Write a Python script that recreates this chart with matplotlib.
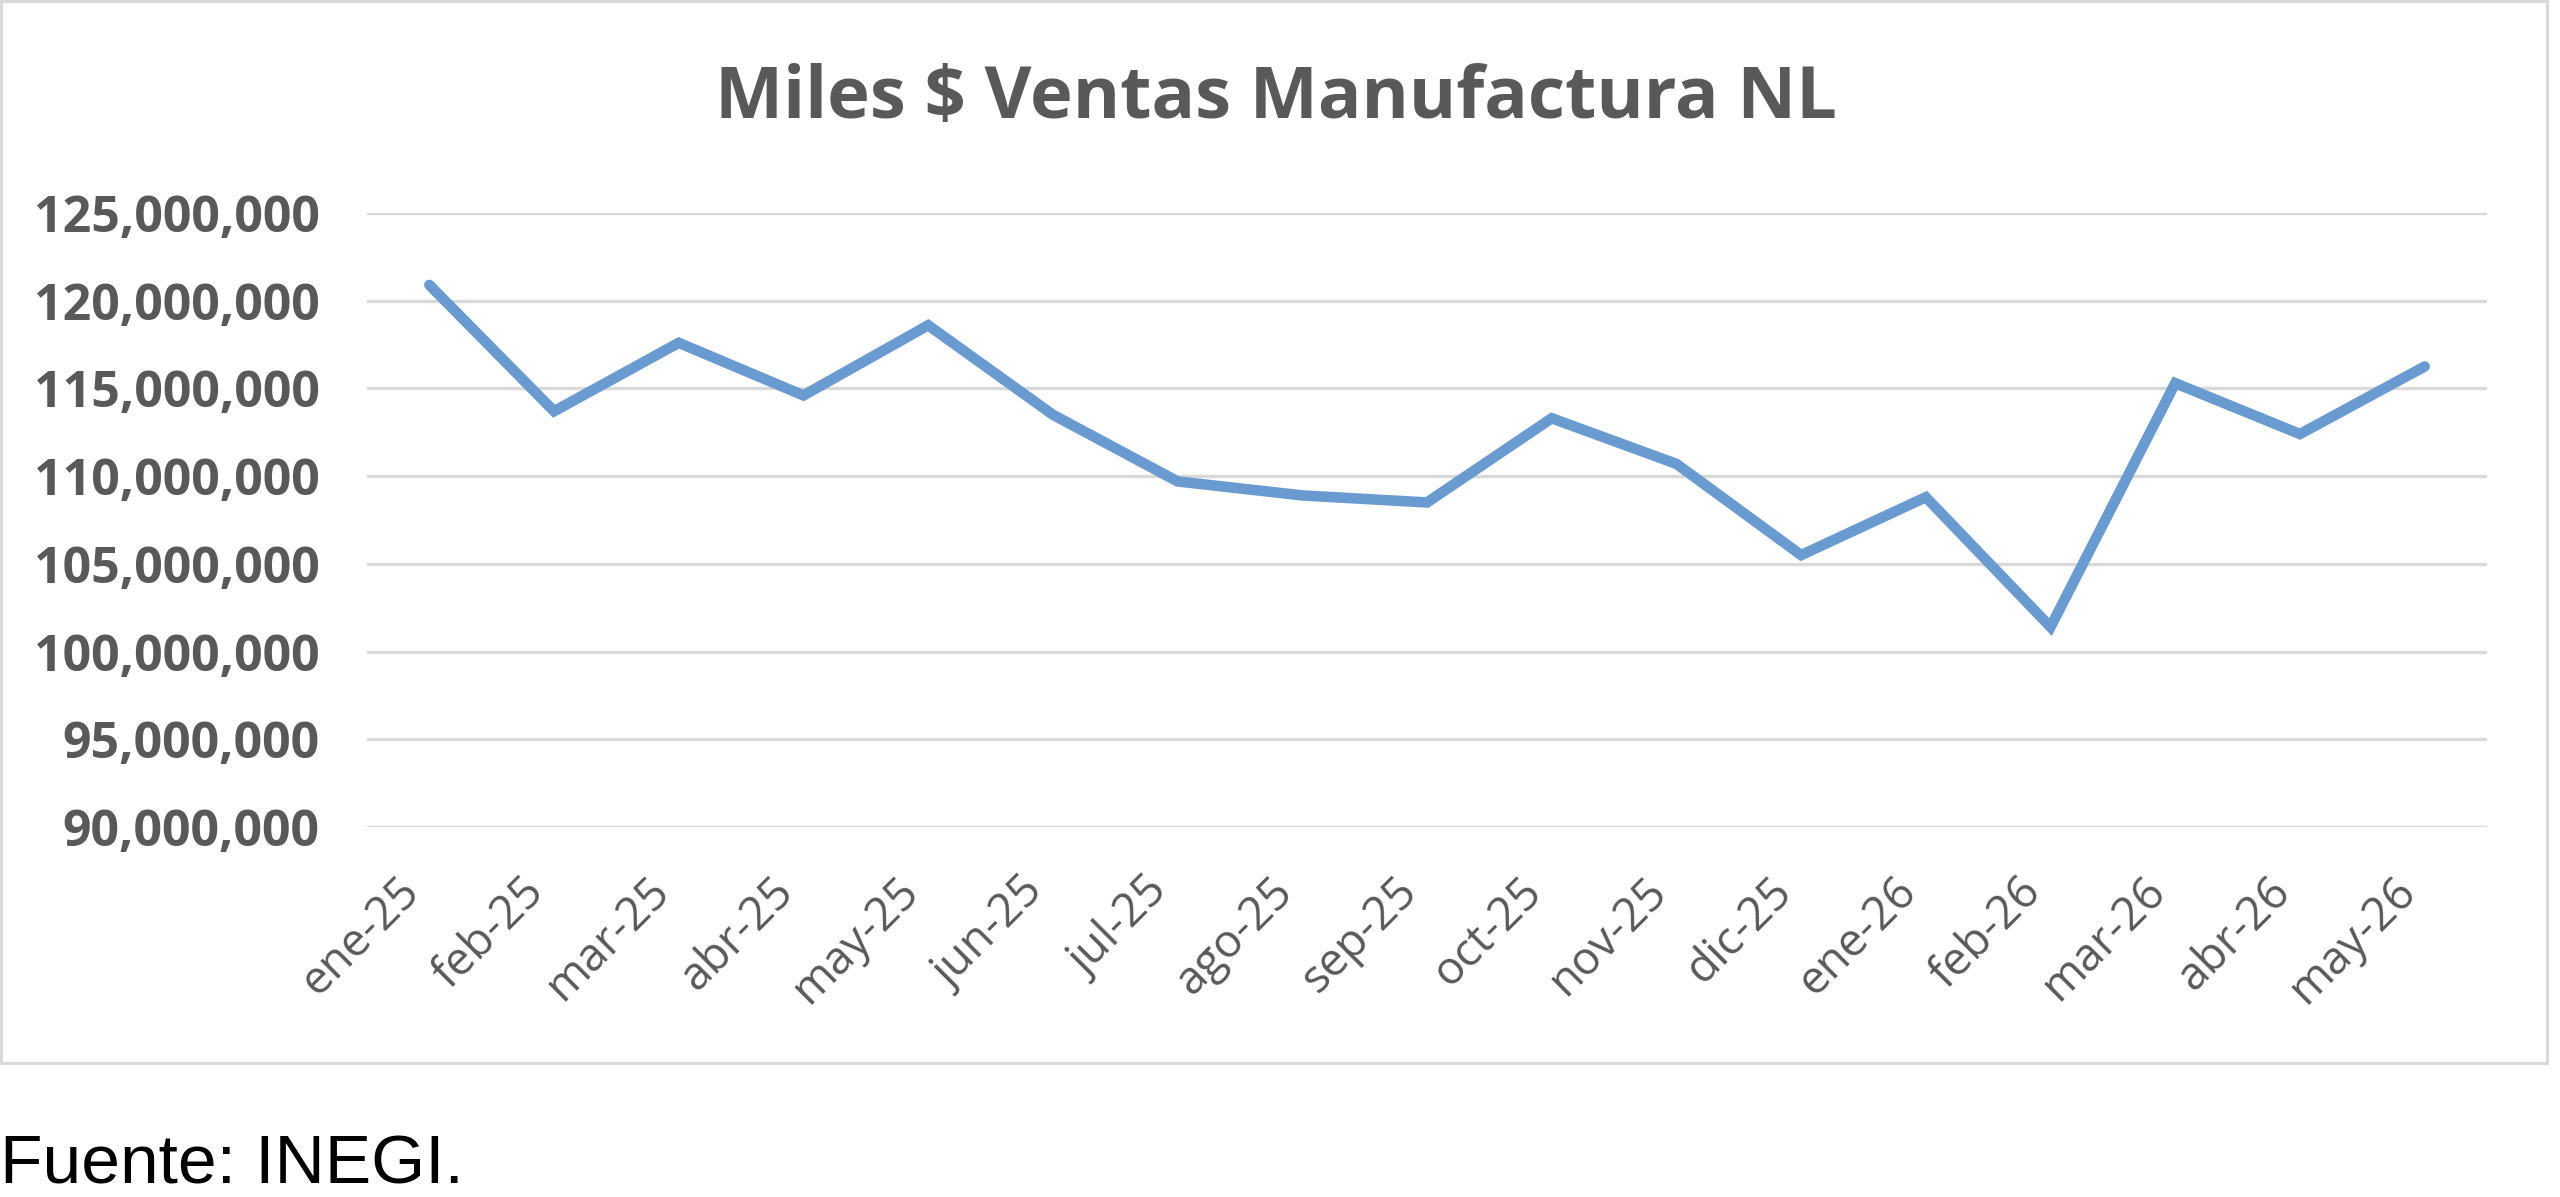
import numpy as np
import matplotlib
matplotlib.use("Agg")
import matplotlib.pyplot as plt
from matplotlib.ticker import FuncFormatter
from matplotlib.patches import Rectangle

# Data (miles de pesos)
meses = ["ene-25", "feb-25", "mar-25", "abr-25", "may-25", "jun-25",
         "jul-25", "ago-25", "sep-25", "oct-25", "nov-25", "dic-25",
         "ene-26", "feb-26", "mar-26", "abr-26", "may-26"]
ventas = [120.9, 113.7, 117.6, 114.6, 118.6, 113.5,
          109.7, 108.9, 108.5, 113.3, 110.7, 105.5,
          108.8, 101.4, 115.3, 112.4, 116.25]
ventas = [v * 1e6 for v in ventas]
yticks = [90e6, 95e6, 100e6, 105e6, 110e6, 115e6, 120e6, 125e6]

titulo = "Miles $ Ventas Manufactura NL"
fuente = "Fuente: INEGI."

gris = "#595959"
linea = "#6A9BD0"
grid_c = "#D9D9D9"

W, H, DPI = 2560, 1197, 100
fig = plt.figure(figsize=(W / DPI, H / DPI), dpi=DPI)
fig.patch.set_facecolor("white")

# chart area border
fig.add_artist(Rectangle((1 / W, 1 - 1063 / H), 2546 / W, 1062 / H,
                         transform=fig.transFigure, fill=False,
                         edgecolor=grid_c, lw=2.2))

ax = fig.add_axes([367 / W, 1 - 827 / H, (2487 - 367) / W, (827 - 213) / H])
x = np.arange(len(meses))
ax.plot(x, ventas, color=linea, lw=7.6, solid_capstyle="round",
        solid_joinstyle="miter", zorder=3)

ax.set_xlim(-0.5, len(meses) - 0.5)
ax.set_ylim(90e6, 125e6)
ax.set_yticks(yticks)
ax.yaxis.set_major_formatter(FuncFormatter(lambda v, p: f"{v:,.0f}"))
ax.set_xticks(x)
ax.set_xticklabels(meses)

for s in ax.spines.values():
    s.set_visible(False)
ax.grid(axis="y", color=grid_c, lw=2.4, zorder=0)
ax.tick_params(length=0)
ax.tick_params(axis="y", pad=34)
ax.tick_params(axis="x", pad=30)

for lab in ax.get_yticklabels():
    lab.set_fontfamily("Open Sans")
    lab.set_fontweight("bold")
    lab.set_fontsize(36)
    lab.set_color(gris)
for lab in ax.get_xticklabels():
    lab.set_fontfamily("Open Sans")
    lab.set_fontsize(33)
    lab.set_color(gris)
    lab.set_rotation(45)
    lab.set_ha("right")
    lab.set_va("top")

fig.text(1276 / W, 1 - 118 / H, titulo, ha="center", va="baseline",
         fontfamily="Open Sans", fontweight="bold", fontsize=52, color=gris)
fig.text(0 / W, 1 - 1183 / H, fuente, ha="left", va="baseline",
         fontfamily="Liberation Sans", fontsize=50, color="black")

fig.savefig("out.png", dpi=DPI)
